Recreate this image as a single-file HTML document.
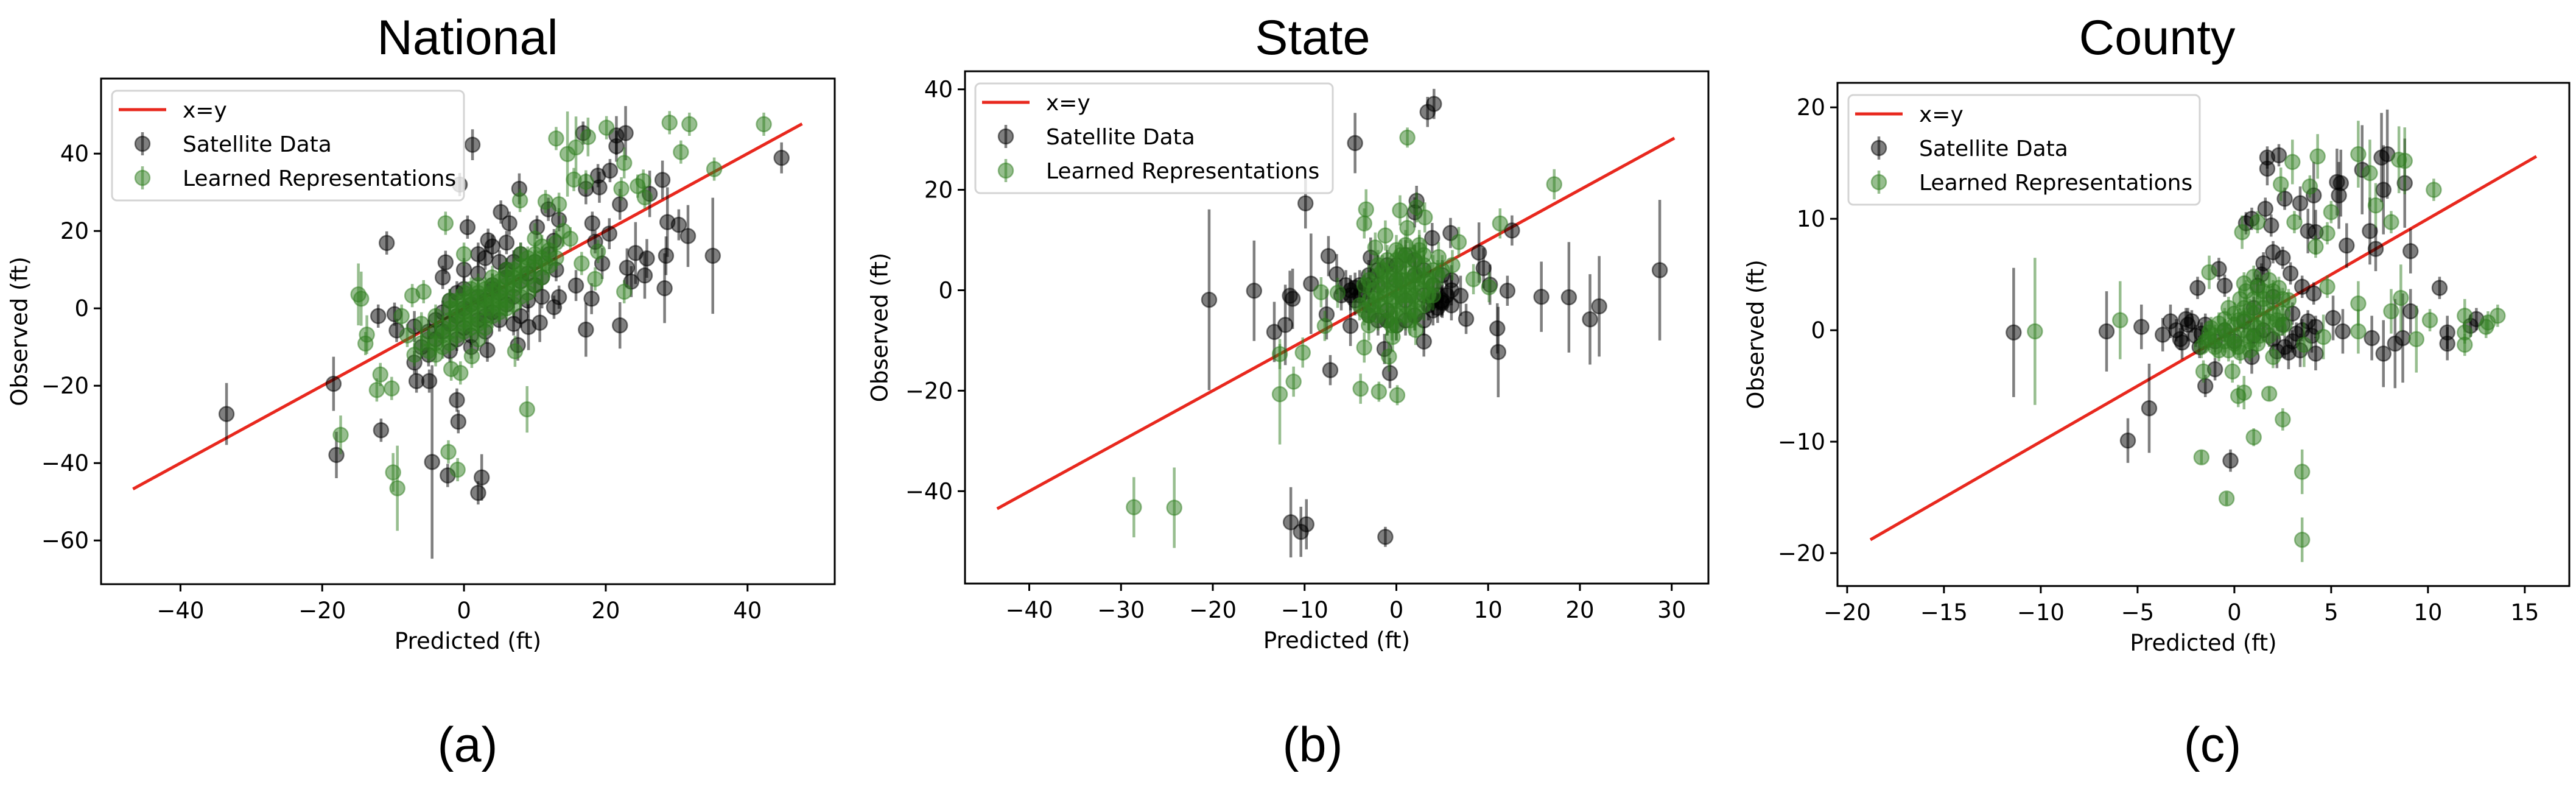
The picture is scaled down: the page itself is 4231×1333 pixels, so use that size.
<!DOCTYPE html>
<html><head><meta charset="utf-8">
<style>
html,body{margin:0;padding:0;background:#fff;}
svg{display:block;}
text{font-family:"DejaVu Sans","Liberation Sans",sans-serif;fill:#000;}
.title{font-family:"Liberation Sans",Arial,sans-serif;}
</style></head>
<body>
<svg id="fig" width="4231" height="1333" viewBox="0 0 4231 1333" xmlns="http://www.w3.org/2000/svg"></svg>
<script>
// ---------- data: [predicted, observed, error] ----------
const natSat = [[44.8,38.9,4],[1.2,42.3,4],[-0.6,32,3],[16.8,45.3,3],[21.5,44.7,5],[22.8,45.3,7],[21.5,41.9,4],[17.2,30.9,4],[19.1,31.3,4],[18.9,34.3,3],[20.6,35.6,3],[28,33.2,5],[22,26.9,4],[26.2,29.6,6],[7.8,30.9,4],[28.7,22.3,9],[30.3,21.6,4],[31.6,18.7,8],[20.5,19.3,4],[35.1,13.6,15],[28.5,13.6,5],[24.2,14.3,8],[25.8,12.9,5],[25.5,8.5,6],[23.6,6.9,4],[23,10.5,5],[19.5,11.6,4],[28.3,5.2,9],[22,-4.4,6],[17.2,-5.5,7],[18,2.5,4],[15.8,5.9,4],[-10.9,16.9,3],[0.5,21,3],[-2.6,11.9,3],[-3,8,3],[-12.1,-2,3],[-9.8,-1.5,3],[-9.5,-5.7,3],[-7,-4.7,4],[-18.4,-19.5,7],[-33.5,-27.3,8],[-18,-37.9,6],[-11.7,-31.5,3],[-6.7,-18.8,3],[-4.9,-18.8,3],[-4.5,-39.7,25],[-2.3,-43.2,3],[-1,-23.7,3],[-0.8,-29.3,3],[2,-47.7,3],[2.5,-43.7,6],[3.3,-10.8,3],[7.6,-9.5,4],[9.1,-4.8,6],[10.7,-3.7,5],[3.4,17.6,3],[5.2,24.9,3],[6.4,22,3],[10.3,21,3],[11.9,25.6,3],[13.4,22.9,3],[12.7,17.5,3],[18.1,22,3],[18.5,17.2,3],[13.4,2.9,3],[12.7,0.3,3],
[-3,-6,3],[-2,-4,3],[-1,-2,3],[0,0,3],[1,1,3],[2,3,3],[3,2,3],[4,5,3],[5,4,3],[6,8,3],[-4,-8,3],[-2,2,3],[0,-5,3],[2,-3,3],[4,6,3],[6,10,3],[8,7,3],[1,-7,3],[3,-2,3],[-1,4,3],[5,-3,3],[7,12,3],[0,5,3],[2,9,3],[9,2,3],[10,6,3],[-5,-12,3],[3,13,3],[8,14,3],
[-6,-10,3],[-5,-6,3],[-4,-3,3],[-3,-1,3],[-1,-8,3],[1,-10,3],[3,-6,3],[4,-1,3],[6,1,3],[7,3,3],[8,-2,3],[9,9,3],[10,12,3],[11,8,3],[12,14,3],[-2,-11,3],[0,10,3],[2,14,3],[4,16,3],[6,17,3],[5,12,3],[7,-4,3],[-7,-14,3],[11,3,3],[13,10,3]];
const natLrn = [[42.3,47.6,3],[29,48,3],[31.8,47.6,3],[30.6,40.4,3],[35.3,36,3],[13,43.9,3],[14.6,39.9,11],[15.8,41.6,8],[17.5,44.3,5],[20.1,46.7,3],[22.6,37.6,4],[15.5,33.3,3],[17.2,32.7,3],[22.2,30.9,3],[24.5,31.6,3],[25.3,32.9,3],[25.5,28.7,3],[11.5,27.6,3],[13.4,26.9,3],[7.9,27.9,3],[-2.6,22,3],[0,14,3],[-14.9,3.6,8],[-14.5,2.5,7],[-13.7,-6.8,5],[-13.9,-9.1,3],[-11.8,-17.1,3],[-10.2,-20.7,3],[-12.3,-21.1,3],[-17.4,-32.7,5],[-10,-42.4,5],[-9.4,-46.5,11],[-2.2,-37.1,3],[-0.9,-41.7,3],[8.9,-26.1,6],[1.1,-12.4,3],[-0.5,-16.7,3],[-1.8,-15.7,3],[7.2,-11.1,4],[-7.3,3.3,3],[-5.7,4.3,3],[-8.8,-2,3],[22.6,4.3,3],[18.9,14.7,3],[18.5,7.6,3],[16.6,11.6,3],[11.5,11.6,3],
[-5,-8,3],[-4,-6,3],[-3,-5,3],[-2,-3,3],[-1,-2,3],[0,-1,3],[1,1,3],[2,2,3],[3,3,3],[4,4,3],[5,5,3],[6,6,3],[7,8,3],[8,9,3],[9,11,3],[10,12,3],[-3,-10,3],[-1,-7,3],[1,-4,3],[3,0,3],[5,2,3],[7,5,3],[0,4,3],[2,6,3],[4,8,3],[6,10,3],[8,14,3],[-2,0,3],[1,-1,3],[3,-5,3],[5,0,3],[10,18,4],[12,15,3],[14,20,4],[11,8,3],[-6,-4,3],[-4,-12,3],[2,-8,3],[6,2,3],[9,4,3],[-1,2,3],[1,5,3],[4,1,3],
[-7,-12,3],[-6,-9,3],[-5,-11,3],[-4,-9,3],[-3,-7,3],[-2,-6,3],[-1,-4,3],[0,-3,3],[1,-2,3],[2,0,3],[3,1,3],[4,2,3],[5,3,3],[6,4,3],[7,6,3],[8,7,3],[9,8,3],[10,10,3],[11,13,3],[12,11,3],[-2,-9,3],[0,-6,3],[2,-4,3],[4,-2,3],[6,0,3],[8,3,3],[10,6,3],[-4,-2,3],[-2,2,3],[0,2,3],[2,4,3],[4,6,3],[6,8,3],[8,11,3],[10,14,3],[1,3,3],[3,5,3],[5,7,3],[7,10,3],[9,13,3],[13,17,3],[-1,0,3],[1,-5,3],[3,-3,3],[5,-1,3],[7,1,3],[-8,-7,3],[11,16,3],[13,13,3],[15,18,3]];
const staSat = [[3.4,35.5,3],[4.1,37.1,3],[-4.5,29.3,6],[-9.9,17.3,5],[-20.4,-1.9,18],[-15.5,-0.1,10],[-13.3,-8.3,6],[-12.1,-6.9,8],[-11.6,-1.1,5],[-11.3,-1.7,6],[-9.3,1.3,10],[-7.4,6.8,4],[-6.5,3.2,4],[-7.2,-15.9,3],[-7.6,-4.8,5],[-5,-7.1,4],[-2.8,6.5,4],[-1.3,-11.7,3],[-0.7,-16.5,3],[2.2,17.8,3],[2,15.5,3],[3.9,10.4,3],[5.9,11.4,3],[9,7.5,6],[9.5,4.4,4],[12.6,11.9,3],[12.1,-0.1,3],[10.2,1.1,4],[11,-7.6,5],[11.1,-12.3,9],[7.6,-5.7,3],[7,-1.1,4],[4.9,-2.3,3],[3,-10.2,3],[15.8,-1.3,7],[18.8,-1.4,11],[21.1,-5.8,9],[22.1,-3.2,10],[28.7,4,14],[-11.5,-46.2,7],[-10.4,-48.1,5],[-9.8,-46.6,5],[-1.2,-49.1,2],
[-5,0,3],[-4,1,3],[-4.5,-2,3],[-3,-3,3],[-2,1,3],[-1,-4,3],[0,2,3],[1,-2,3],[2,3,3],[3,-1,3],[4,1,3],[5,-2,3],[-3,3,3],[-1,5,3],[1,7,3],[3,4,3],[-2,-6,3],[0,-7,3],[2,-5,3],[4,-4,3],[6,0,3],[-6,-1,3],[5,3,3],[6,-3,3],
[-5.5,1,3],[-5,-1,3],[-4.5,0.5,3],[-4,-1,3],[-3.5,0,3],[-3,1,3],[4,-2,3],[4.5,-1,3],[5,-2.5,3],[5.5,-1,3],[3.5,-3,3],[4.5,-3.5,3],[-3,-5,3],[-1,-6,3],[1,-6,3],[3,-6,3],[-2,4,3],[0,5,3],[2,6,3],[6,2,3]];
const staLrn = [[1.2,30.4,2],[17.2,21.1,3],[11.3,13.3,3],[-3.3,16.1,4],[-3.5,13.3,3],[0.4,15.9,3],[2.2,16.5,3],[3.1,14.5,3],[1.2,12.4,3],[-1.2,10.9,3],[-2.3,8.5,3],[6.8,9.6,3],[-12.7,-12.7,3],[-10.2,-12.4,3],[-11.2,-18.2,3],[-12.7,-20.7,10],[-3.9,-19.6,3],[-1.9,-20.2,2],[0.1,-20.9,2],[-3.5,-11.4,3],[-0.8,-13.2,3],[-0.4,-9.3,3],[2.1,-7.9,3],[-7.8,-7.1,3],[-8.2,-0.4,3],[-6.4,-0.5,3],[-28.6,-43.2,6],[-24.2,-43.3,8],[8.4,2.2,3],[10.1,0.6,3],[6.1,5,3],[4.6,6.6,3],
[-3,-5,3],[-2.5,-3,3],[-2,-1,3],[-1.5,1,3],[-1,3,3],[-0.5,-2,3],[0,0,3],[0.5,2,3],[1,4,3],[1.5,-1,3],[2,1,3],[2.5,3,3],[3,5,3],[-1,-6,3],[0,-4,3],[1,-3,3],[2,-5,3],[3,0,3],[-2,5,3],[0,6,3],[1.5,7,3],[2.5,8,3],[-3.5,1,3],[-1,0,3],[0.5,-1,3],[1,1,3],[1.8,2,3],[-0.2,3,3],[-1.8,-3,3],[2.2,-2,3],[3.5,2,3],[4,-1,3],[5,4,3],[-4,-3,3],[0,-7,3],[1,9,3],
[-3,-7,3],[-3,-2,3],[-3,2,3],[-2,-5,3],[-2,-2,3],[-2,3,3],[-1,-4,3],[-1,-1,3],[-1,2,3],[-1,6,3],[0,-5,3],[0,-2,3],[0,1,3],[0,4,3],[0,8,3],[1,-5,3],[1,-1,3],[1,2,3],[1,6,3],[2,-4,3],[2,-1,3],[2,3,3],[2,6,3],[3,-3,3],[3,2,3],[3,7,3],[4,1,3],[4,4,3],[-3.5,-4,3],[-2.5,0,3],[-0.5,-7,3],[1.5,-6,3],[3.5,-1,3],[-1.5,4,3],[0.5,7,3],[2.5,9,3],[4.5,3,3]];
const couSat = [[-11.4,-0.2,5.8],[-6.6,-0.1,3.6],[-4.8,0.3,2],[-3.3,0.8,1.5],[-3.7,-0.4,1.5],[-5.5,-9.9,2],[-4.4,-7,4],[-0.2,-11.7,1],[-1.5,-5,1],[-1,-3.5,1],[-1.9,3.8,1],[-0.8,5.5,1],[-0.5,4,1],[1.7,15.5,1],[1.7,14.5,1.5],[2.3,15.7,1],[1.6,10.9,1],[1.9,9.4,1],[2.6,11.8,1],[0.6,9.6,1],[0.9,10,1],[3.4,11.4,1.5],[4.1,12.1,3],[3.8,8.9,2],[4.2,8.8,2],[5.3,13.3,3],[5.5,13.2,3],[5.4,12.1,3],[5.8,7.6,2],[6.6,14.4,4],[7.6,15.5,4],[7.9,15.8,4],[7.7,12.6,4],[8.8,13.2,4],[7,8.9,3],[7.3,7.3,2],[9.1,7.1,2],[2.5,6.5,1],[2.9,5.1,1],[3.5,3.9,1],[4.1,3.3,1],[10.6,3.8,1],[9.1,1.7,2],[11,-0.2,1.5],[11,-1.2,1.5],[12.2,0.4,1],[12.5,1,1],[7.7,-2.1,3],[7.1,-0.7,2],[8.7,-0.7,4],[8.3,-1.2,4],[5.6,-0.1,2],[5.1,1.1,2],[4.2,-2.1,1.5],[2.2,-1.9,1.5],[0.9,-2.4,1.5],[-2.7,-1.1,1.5],[-2.4,0.5,1.5],
[-2,-0.5,1],[-1.5,0.5,1],[-1,-1,1],[-0.5,0,1],[0,-1,1],[0.5,0.8,1],[1,-0.5,1],[1.5,0,1],[2,-0.8,1],[2.5,0.5,1],[3,-1,1],[3.5,0,1],[4,-0.5,1.5],[-2.5,1,1],[-1.8,-1.5,1],[3,1.5,1],[2,3,1],[1,2,1],
[-3,0,1],[-2.8,-0.8,1],[-2.2,0.8,1],[-1.7,-0.3,1],[2.6,-1.5,1],[3.2,-0.3,1],[3.8,0.8,1],[2.8,-2,1.5],[3.4,-1.8,1.5],[4.2,0.3,1],[1.2,4,1],[1.5,6,1],[2,7,1],[1.4,5,1]];
const couLrn = [[-10.3,-0.1,6.6],[-5.9,0.9,3.5],[-1.7,-11.4,0.6],[-0.4,-15.1,0.6],[3.5,-12.7,2],[3.5,-18.8,2],[1,-9.6,0.8],[2.5,-8,1],[1.8,-5.7,0.6],[0.5,-5.6,1.5],[0.2,-5.9,1],[-0.1,-3.7,1],[-1.6,-3.7,1],[-1.3,5.2,1.5],[0.4,8.8,1.5],[1.2,9.7,1],[2.4,13.1,1.5],[3,15.1,2],[4.3,15.6,2],[3.9,12.9,1],[5,10.6,1],[4.8,8.7,1],[3.1,9.7,1],[4.2,7.5,1],[4.8,3.9,1],[6.4,15.8,3],[7,14.1,3],[7.3,11.2,2],[8.1,9.7,1],[8.5,15.3,3],[8.8,15.2,3],[10.3,12.6,1],[6.4,2.4,2],[8.1,1.7,2],[8.6,2.9,3],[10.1,0.9,1],[11.9,1.3,1.5],[11.9,-0.2,1],[11.9,-1.3,1],[13.1,0.7,1],[13.6,1.3,1],[13,0.3,1],[6.4,-0.1,2],[9.4,-0.8,3],[4.6,-0.6,2],[3.6,-1.3,2],[2,-2.4,1],[2.2,0.9,1],[2.8,2.7,1],
[-1.5,-1,1],[-1,-0.5,1],[-0.5,0,1],[0,0.5,1],[0.5,1,1],[1,1.5,1],[1.5,2,1],[2,2.5,1],[-1,-1.5,1],[-0.5,-1,1],[0,-0.5,1],[0.5,0,1],[1,0.5,1],[1.5,1,1],[2,1.5,1],[-0.5,1,1],[0,1.5,1],[0.5,2,1],[1,2.8,1],[1.5,3.5,1],[0.2,-1.5,1],[0.8,-1,1],[1.3,-0.5,1],[-1.2,0.2,1],[2.3,3.8,1],[1.8,4.5,1],[0.6,3.5,1],[2.6,0.5,1],
[-1.7,-1.5,1],[-1.3,-0.8,1],[-0.8,-1.8,1],[-0.3,-1.8,1],[0.3,-2,1],[0.8,-1.8,1],[1.2,-1.2,1],[1.8,-0.5,1],[2.3,0.2,1],[2.5,1.5,1],[2.5,2.8,1],[2,3.5,1],[1.2,3.8,1],[0.3,2.8,1],[-0.3,2,1],[-0.8,0.6,1],[-1.3,-0.2,1],[0,-1.2,1],[0.7,-0.5,1],[1.2,0.2,1],[1.8,0.8,1],[0.2,0.9,1],[0.8,1.8,1],[1.5,2.8,1],[-0.4,-0.4,1],[1,4.8,1],[0.5,4.2,1]];
const natXTicks = [-40,-20,0,20,40];
const natYTicks = [-60,-40,-20,0,20,40];
const staXTicks = [-40,-30,-20,-10,0,10,20,30];
const staYTicks = [-40,-20,0,20,40];
const couXTicks = [-20,-15,-10,-5,0,5,10,15];
const couYTicks = [-20,-10,0,10,20];
const lineNat = [-46.7,47.7];
const lineSta = [-43.5,30.3];
const lineCou = [-18.8,15.6];
const titles = ["National","State","County"];
const subLabels = ["(a)","(b)","(c)"];

const NS="http://www.w3.org/2000/svg";
const svg=document.getElementById('fig');
function mk(tag,attrs,parent){const e=document.createElementNS(NS,tag);for(const k in attrs)e.setAttribute(k,attrs[k]);(parent||svg).appendChild(e);return e;}
function fmt(v){return v<0?'\u2212'+Math.abs(v):String(v);}

const panels=[
 {L:166,R:1371,T:129,B:959,xd:[-51.2,52.3],yd:[-71.3,59.4],xt:natXTicks,yt:natYTicks,sat:natSat,lrn:natLrn,line:lineNat,yl:32,lg:[184,149,762],title:titles[0],sub:subLabels[0],key:'national'},
 {L:1585,R:2806,T:117,B:958,xd:[-47.0,34.0],yd:[-58.4,43.6],xt:staXTicks,yt:staYTicks,sat:staSat,lrn:staLrn,line:lineSta,yl:1445,lg:[1602,137,2189],title:titles[1],sub:subLabels[1],key:'state'},
 {L:3018,R:4220,T:136,B:962,xd:[-20.5,17.3],yd:[-22.95,22.2],xt:couXTicks,yt:couYTicks,sat:couSat,lrn:couLrn,line:lineCou,yl:2884,lg:[3036,156,3613],title:titles[2],sub:subLabels[2],key:'county'}
];
const BLACK='#000000', GREEN='#2f7d1f', RED='#e8281e';

panels.forEach((p,pi)=>{
  const g=mk('g',{});
  
  
  const sx=v=>p.L+(v-p.xd[0])/(p.xd[1]-p.xd[0])*(p.R-p.L);
  const sy=v=>p.B-(v-p.yd[0])/(p.yd[1]-p.yd[0])*(p.B-p.T);
  const t=mk('text',{x:[768,2156,3543][pi],y:89,'font-size':81,'text-anchor':'middle',class:'title'},g);
  t.textContent=p.title;
  
  
  const s=mk('text',{x:[768,2156,3634][pi],y:1250,'font-size':81,'text-anchor':'middle',class:'title'},g);
  s.textContent=p.sub;
  
  
  const cp=mk('clipPath',{id:'clip'+pi},g);
  mk('rect',{x:p.L,y:p.T,width:p.R-p.L,height:p.B-p.T},cp);
  const plot=mk('g',{'clip-path':'url(#clip'+pi+')'},g);
  
  
  const ln=mk('line',{x1:sx(p.line[0]),y1:sy(p.line[0]),x2:sx(p.line[1]),y2:sy(p.line[1]),stroke:RED,'stroke-width':5},plot);
  
  
  function series(data,col,nm){
    const sg=mk('g',{},plot);
    
    
    data.forEach(d=>{
      const x=sx(d[0]),y=sy(d[1]);
      const eb=mk('line',{x1:x,x2:x,y1:sy(d[1]-d[2]),y2:sy(d[1]+d[2]),stroke:col,'stroke-opacity':0.5,'stroke-width':4.5},sg);
      
      
      const c=mk('circle',{cx:x,cy:y,r:12,fill:col,'fill-opacity':0.5,stroke:col,'stroke-opacity':0.5,'stroke-width':2.5},sg);
      
      
    });
  }
  series(p.sat,BLACK,'satellite-data');
  series(p.lrn,GREEN,'learned-representations');
  const fr=mk('rect',{x:p.L,y:p.T,width:p.R-p.L,height:p.B-p.T,fill:'none',stroke:'#000','stroke-width':3},g);
  
  
  const xa=mk('g',{},g);
  
  
  p.xt.forEach(v=>{
    const x=sx(v);
    mk('line',{x1:x,x2:x,y1:p.B,y2:p.B+12,stroke:'#000','stroke-width':3},xa);
    const tl=mk('text',{x:x,y:p.B+56,'font-size':37,'text-anchor':'middle'},xa);
    tl.textContent=fmt(v);
    
    
  });
  const ya=mk('g',{},g);
  
  
  p.yt.forEach(v=>{
    const y=sy(v);
    mk('line',{x1:p.L-12,x2:p.L,y1:y,y2:y,stroke:'#000','stroke-width':3},ya);
    const tl=mk('text',{x:p.L-20,y:y+13,'font-size':37,'text-anchor':'end'},ya);
    tl.textContent=fmt(v);
    
    
  });
  const xl=mk('text',{x:(p.L+p.R)/2,y:p.B+106,'font-size':37,'text-anchor':'middle'},g);
  xl.textContent='Predicted (ft)';
  
  
  const cy=(p.T+p.B)/2;
  const yl=mk('text',{x:p.yl,y:cy,'font-size':37,'text-anchor':'middle','dominant-baseline':'central',transform:'rotate(-90 '+p.yl+' '+cy+')'},g);
  yl.textContent='Observed (ft)';
  
  
  const [lx,ly,lr]=p.lg;
  const lgd=mk('g',{},g);
  
  
  mk('rect',{x:lx,y:ly,width:lr-lx,height:180,rx:8,fill:'#fff','fill-opacity':0.8,stroke:'#d4d4d4','stroke-width':3},lgd);
  mk('line',{x1:lx+11,x2:lx+89,y1:ly+31,y2:ly+31,stroke:RED,'stroke-width':5},lgd);
  [[BLACK,87],[GREEN,143]].forEach(r=>{
    mk('line',{x1:lx+50,x2:lx+50,y1:ly+r[1]-19,y2:ly+r[1]+19,stroke:r[0],'stroke-opacity':0.5,'stroke-width':4.5},lgd);
    mk('circle',{cx:lx+50,cy:ly+r[1],r:12,fill:r[0],'fill-opacity':0.5,stroke:r[0],'stroke-opacity':0.5,'stroke-width':2.5},lgd);
  });
  [['x=y',31],['Satellite Data',87],['Learned Representations',143]].forEach(r=>{
    const tx=mk('text',{x:lx+116,y:ly+r[1]+13,'font-size':36},lgd);
    tx.textContent=r[0];
    
    
  });
});
</script>
</body></html>
